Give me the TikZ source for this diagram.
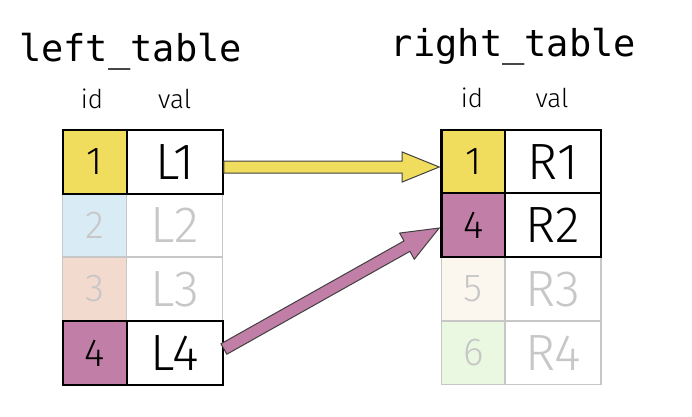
\documentclass[tikz,border=0pt]{standalone}
\usepackage{fontspec}
\setmainfont{Fira Sans}[UprightFont=* Light]
\newfontfamily\codefont{DejaVu Sans Mono}
\usetikzlibrary{calc}

\definecolor{keyyellow}{RGB}{240,221,94}
\definecolor{keypurple}{RGB}{193,126,166}
\definecolor{keyblue}{RGB}{217,235,245}
\definecolor{keypeach}{RGB}{242,218,206}
\definecolor{keycream}{RGB}{251,246,238}
\definecolor{keygreen}{RGB}{235,248,225}

% fat arrow from #1 to #2, filled with #3
\newcommand{\joinarrow}[3]{%
    \coordinate (hb) at ($(#2)!37pt!(#1)$);
    \filldraw[fill=#3, draw=black!75, line width=1pt]
        ($(#1)!6pt!90:(#2)$) -- ($(hb)!6pt!90:(#2)$) -- ($(hb)!15pt!90:(#2)$)
        -- (#2) -- ($(hb)!15pt!-90:(#2)$) -- ($(hb)!6pt!-90:(#2)$)
        -- ($(#1)!6pt!-90:(#2)$) -- cycle;
}

\begin{document}
\begin{tikzpicture}[x=1pt, y=-1pt,
        cell/.style={rectangle, draw, line width=2.4pt, minimum height=63.5pt, inner sep=0pt},
        idcell/.style={cell, minimum width=64pt, font=\fontsize{39}{39}\selectfont},
        valcell/.style={cell, fill=white, minimum width=96pt, font=\fontsize{51}{51}\selectfont},
        faded/.style={draw=black!22, text=black!22, line width=1.4pt},
        title/.style={anchor=base, font=\codefont\fontsize{37}{37}\selectfont},
        colhead/.style={anchor=base, font=\fontsize{26}{26}\selectfont}]
        \useasboundingbox (0,0) rectangle (692,416);

        % Titles
        \node[title] (ltitle) at (130.5,61) {left\_table};
        \node[title] (rtitle) at (513.5,56) {right\_table};
        \node[colhead] (lid)  at (92,108) {id};
        \node[colhead] (lval) at (174.7,108) {val};
        \node[colhead] (rid)  at (472,107) {id};
        \node[colhead] (rval) at (552,107) {val};

        % Left table
        \node[idcell, faded, fill=keyblue]  (l2id)  at (94.7,225) {2};
        \node[valcell, faded]               (l2val) at (174.7,225) {L2};
        \node[idcell, faded, fill=keypeach] (l3id)  at (94.7,289) {3};
        \node[valcell, faded]               (l3val) at (174.7,289) {L3};
        \node[idcell, fill=keyyellow] (l1id)  at (94.7,162) {1};
        \node[valcell]                (l1val) at (174.7,162) {L1};
        \node[idcell, fill=keypurple] (l4id)  at (94.7,353) {4};
        \node[valcell]                (l4val) at (174.7,353) {L4};

        % Right table
        \node[idcell, faded, fill=keycream] (r3id)  at (473.4,289) {5};
        \node[valcell, faded]               (r3val) at (553,289) {R3};
        \node[idcell, faded, fill=keygreen] (r4id)  at (473.4,353) {6};
        \node[valcell, faded]               (r4val) at (553,353) {R4};
        \node[idcell, fill=keyyellow] (r1id)  at (473.4,162) {1};
        \node[valcell]                (r1val) at (553,162) {R1};
        \node[idcell, fill=keypurple] (r2id)  at (473.4,225) {4};
        \node[valcell]                (r2val) at (553,225) {R2};

        % Arrows
        \coordinate (ytail) at ([yshift=-5pt]l1val.east);
        \coordinate (yhead) at ([yshift=-5pt,xshift=-1pt]r1id.west);
        \coordinate (ptail) at ([yshift=4pt]l4val.east);
        \coordinate (phead) at ([yshift=-3pt,xshift=-1pt]r2id.west);
        \joinarrow{ytail}{yhead}{keyyellow}
        \joinarrow{ptail}{phead}{keypurple}

    \end{tikzpicture}
\end{document}
